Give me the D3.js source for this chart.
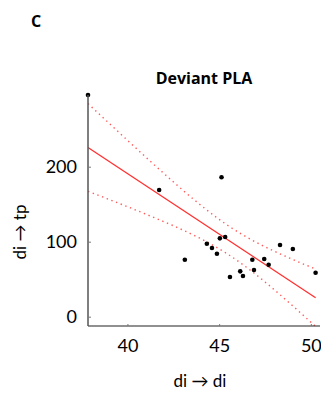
<!DOCTYPE html>
<html>
<head>
<meta charset="utf-8">
<script src="https://cdn.jsdelivr.net/npm/d3@7"></script>
<style>
  body { margin: 0; background: #fff; }
  text { font-family: Lato, "Open Sans", sans-serif; fill: #000; }
</style>
</head>
<body>
<div id="chart"></div>
<script>
// di -> di (x) and di -> tp (y), one entry per subject
const diDi = [37.85, 41.73, 45.13, 45.04, 45.33, 44.33, 44.61, 44.88, 43.13, 46.81,
              47.46, 47.70, 48.32, 49.02, 50.26, 46.90, 46.15, 46.30, 45.59];
const diTp = [295.6, 168.9, 185.9, 104.5, 106.3, 97.3, 91.6, 84.0, 76.0, 76.0,
              76.9, 69.3, 95.6, 90.3, 58.7, 62.3, 60.5, 54.3, 52.9];

const xTicks = [40, 45, 50];
const yTicks = [0, 100, 200];
const xDomain = [37.85, 50.5];
const yDomain = [-12.4, 295.6];
const tCrit = 2.11; // t(0.975, n - 2)

const width = 321, height = 397;
const margin = { left: 88, top: 95, right: 1, bottom: 71 };

const svg = d3.select('#chart').append('svg')
  .attr('width', width)
  .attr('height', height);

const x = d3.scaleLinear().domain(xDomain).range([margin.left, width - margin.right]);
const y = d3.scaleLinear().domain(yDomain).range([height - margin.bottom, margin.top]);

// least squares fit + 95% confidence band of the mean
const pts = diDi.map((d, i) => [d, diTp[i]]);
const n = pts.length;
const mx = d3.mean(diDi), my = d3.mean(diTp);
const sxx = d3.sum(diDi, d => (d - mx) ** 2);
const sxy = d3.sum(pts, p => (p[0] - mx) * (p[1] - my));
const slope = sxy / sxx;
const icpt = my - slope * mx;
const sse = d3.sum(pts, p => (p[1] - icpt - slope * p[0]) ** 2);
const s = Math.sqrt(sse / (n - 2));
const half = v => tCrit * s * Math.sqrt(1 / n + (v - mx) ** 2 / sxx);

const [x0, x1] = d3.extent(diDi);
const grid = d3.range(0, 61).map(i => x0 + (x1 - x0) * i / 60);

svg.append('clipPath').attr('id', 'clip')
  .append('rect')
  .attr('x', margin.left).attr('y', margin.top)
  .attr('width', width - margin.left - margin.right)
  .attr('height', height - margin.top - margin.bottom);

const plot = svg.append('g').attr('clip-path', 'url(#clip)');
const line = d3.line().x(d => x(d[0])).y(d => y(d[1]));

plot.append('path')
  .attr('d', line([[x0, icpt + slope * x0], [x1, icpt + slope * x1]]))
  .attr('fill', 'none')
  .attr('stroke', '#ff3030')
  .attr('stroke-width', 1.3);

[1, -1].forEach(sign => {
  plot.append('path')
    .attr('d', line(grid.map(v => [v, icpt + slope * v + sign * half(v)])))
    .attr('fill', 'none')
    .attr('stroke', '#ff5a5a')
    .attr('stroke-width', 1.4)
    .attr('stroke-dasharray', '1.4,3.6');
});

svg.append('g')
  .selectAll('circle')
  .data(pts)
  .enter().append('circle')
    .attr('cx', d => x(d[0]))
    .attr('cy', d => y(d[1]))
    .attr('r', 2.3)
    .attr('fill', '#000');

// axes
const xAxis = d3.axisTop(x).tickValues(xTicks).tickSize(2).tickFormat(d3.format('d'));
const gx = svg.append('g')
  .attr('transform', `translate(0,${height - margin.bottom})`)
  .call(xAxis);
gx.select('.domain').attr('stroke', '#222').attr('stroke-width', 1.2)
  .attr('d', `M${margin.left},0H${width - margin.right}`);
gx.selectAll('.tick line').attr('stroke', '#777');
gx.selectAll('.tick text')
  .attr('y', 13)
  .attr('dy', '0.71em')
  .style('font-size', '18px');

const yAxis = d3.axisRight(y).tickValues(yTicks).tickSize(3);
const gy = svg.append('g')
  .attr('transform', `translate(${margin.left},0)`)
  .call(yAxis);
gy.select('.domain').attr('stroke', '#555').attr('stroke-width', 1.5)
  .attr('d', `M0,${margin.top}V${height - margin.bottom}`);
gy.selectAll('.tick line').attr('stroke', '#777');
gy.selectAll('.tick text')
  .attr('x', -11)
  .attr('text-anchor', 'end')
  .style('font-size', '18px');

svg.append('text')
  .attr('x', 200).attr('y', 387)
  .attr('text-anchor', 'middle')
  .style('font-size', '17px')
  .text('di \u2192 di');

svg.append('text')
  .attr('transform', 'translate(26,232) rotate(-90)')
  .attr('text-anchor', 'middle')
  .style('font-size', '17px')
  .text('di \u2192 tp');

svg.append('text')
  .attr('x', 204).attr('y', 84)
  .attr('text-anchor', 'middle')
  .style('font-family', '"Open Sans", sans-serif')
  .style('font-size', '16px')
  .style('font-weight', 'bold')
  .text('Deviant PLA');

svg.append('text')
  .attr('x', 31).attr('y', 27)
  .style('font-family', '"Open Sans", sans-serif')
  .style('font-size', '16px')
  .style('font-weight', 'bold')
  .text('C');
</script>
</body>
</html>
